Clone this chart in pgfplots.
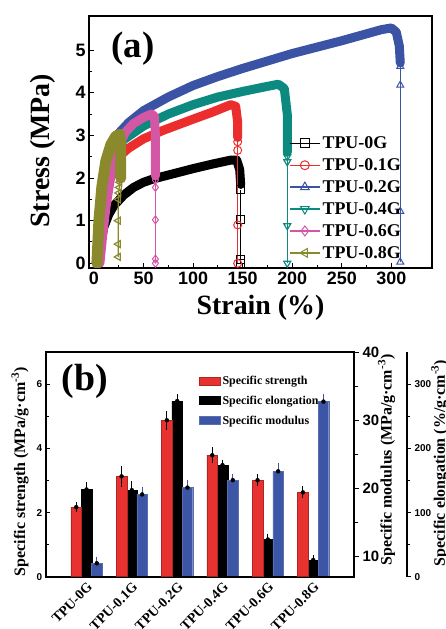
\documentclass[border=0pt]{standalone}
\usepackage{fontspec}
\setmainfont{Liberation Serif}
\setsansfont{Liberation Sans}
\usepackage{pgfplots}
\pgfplotsset{compat=1.18}
\definecolor{c0}{HTML}{000000}
\definecolor{c1}{HTML}{EC2D2D}
\definecolor{c2}{HTML}{3B53A4}
\definecolor{c3}{HTML}{0C8A7F}
\definecolor{c4}{HTML}{D457A5}
\definecolor{c5}{HTML}{8A8A2C}
\definecolor{bred}{HTML}{E8322F}
\definecolor{bblue}{HTML}{3C55A5}
\newcommand{\fs}[1]{\fontsize{#1}{#1}\selectfont}
\pgfplotsset{
  thickc/.style={line width=9bp, line join=round, line cap=round, forget plot},
  thinc/.style={line width=1.2bp, mark size=4bp, mark options={solid, fill=white, line width=1bp}, forget plot},
  ebar/.style={only marks, mark=none, forget plot, error bars/.cd, y dir=both, y explicit,
     error bar style={#1, line width=0.9bp},
     error mark options={#1, line width=0.9bp, mark size=4bp}, /pgfplots/.cd},
  barp/.style={ybar, bar width=10.5bp, bar shift=0bp, forget plot},
}
\begin{document}
\begin{tikzpicture}
\useasboundingbox (0bp,0bp) rectangle (446bp,629bp);
% ---------------- panel (a)
\begin{axis}[at={(89bp,361bp)}, anchor=south west, scale only axis,
  width=343bp, height=252bp,
  xmin=-5, xmax=341, ymin=-0.11, ymax=5.8,
  xtick={0,50,...,300}, ytick={0,1,...,5},
  minor x tick num=1, minor y tick num=1,
  tick align=inside, xtick pos=bottom, ytick pos=left,
  axis line style={line width=1.6bp},
  major tick length=5bp, minor tick length=3bp,
  every tick/.style={black, line width=1bp},
  /pgf/number format/assume math mode=true,
  tick label style={font=\sffamily\bfseries\fs{18}},
  xlabel={Strain (\%)}, ylabel={Stress (MPa)},
  label style={font=\bfseries\fs{28}},
  xlabel style={at={(rel axis cs:0.5,-0.159)}, anchor=center},
  ylabel style={at={(rel axis cs:-0.134,0.465)}, anchor=center},
  legend style={at={(0.583,0.53)}, anchor=north west, draw=none, fill=none,
    font=\bfseries\fs{18}, inner sep=0pt, row sep=4.5bp},
  legend cell align=left,
  legend image code/.code={\draw[mark repeat=2, mark phase=2, #1] plot coordinates {(0bp,0bp) (15bp,0bp) (30bp,0bp)};},
]
% TPU-0G
\addplot[c0, thickc] coordinates {(4,0) (7,0.5) (10,0.85) (15,1.15) (20,1.35) (30,1.6) (40,1.78) (50,1.9) (60,1.98) (80,2.1) (100,2.22) (120,2.33) (138,2.42) (144,2.42) (147,2.2) (148,1.85)};
\addplot[c0, thinc, mark=square] coordinates {(148,1.72) (148,1.03) (148,0.08) (148,0.0)};
% TPU-0.1G
\addplot[c1, thickc] coordinates {(4,0) (7,0.8) (10,1.4) (14,1.95) (18,2.25) (25,2.5) (35,2.7) (50,2.92) (70,3.12) (100,3.38) (120,3.55) (138,3.72) (143,3.68) (145,3.3) (145,2.95)};
\addplot[c1, thinc, mark=o] coordinates {(145,2.85) (145,2.65) (145,0.9) (145,0)};
% TPU-0.2G
\addplot[c2, thickc] coordinates {(5,0) (8,1.0) (11,1.8) (15,2.4) (20,2.8) (25,3.05) (35,3.3) (50,3.58) (75,3.9) (100,4.17) (125,4.38) (150,4.57) (200,4.92) (250,5.22) (290,5.48) (300,5.52) (305,5.42) (308,5.1) (309,4.7)};
\addplot[c2, thinc, mark=triangle] coordinates {(309,4.62) (309,4.18) (309,1.22) (309,0.03)};
% TPU-0.4G
\addplot[c3, thickc] coordinates {(4,0) (7,0.9) (10,1.6) (14,2.2) (20,2.6) (30,2.9) (50,3.22) (75,3.5) (100,3.72) (125,3.9) (150,4.03) (175,4.15) (186,4.2) (192,4.1) (195,3.5) (195,2.6)};
\addplot[c3, thinc, mark=triangle, mark options={rotate=180}] coordinates {(195,2.5) (195,2.38) (195,0.88) (195,0)};
% TPU-0.6G
\addplot[c4, thickc] coordinates {(6,0) (9,0.7) (12,1.3) (16,1.9) (20,2.35) (25,2.75) (32,3.08) (40,3.28) (50,3.42) (58,3.5) (61,3.45) (62,3.0) (62,2.05)};
\addplot[c4, thinc, mark=diamond] coordinates {(62,1.95) (62,1.78) (62,1.02) (62,0.1) (62,0.0)};
% TPU-0.8G
\addplot[c5, thickc, line width=11bp] coordinates {(3,0) (5,1.0) (8,1.8) (12,2.4) (17,2.78) (22,2.98) (26,3.02) (27,2.7) (27,2.0)};
\addplot[c5, thinc, mark=triangle, mark options={rotate=90}] coordinates {(26,1.9) (25.5,1.78) (25,1.65) (24.5,1.5) (24.5,1.0) (24.5,0.45) (24.5,0.15)};
% legend
\addlegendimage{c0, line width=1.4bp, mark=square, mark size=4.5bp, mark options={fill=white, line width=1bp}}
\addlegendentry{TPU-0G}
\addlegendimage{c1, line width=1.4bp, mark=o, mark size=4.5bp, mark options={fill=white, line width=1bp}}
\addlegendentry{TPU-0.1G}
\addlegendimage{c2, line width=1.4bp, mark=triangle, mark size=5bp, mark options={fill=white, line width=1bp}}
\addlegendentry{TPU-0.2G}
\addlegendimage{c3, line width=1.4bp, mark=triangle, mark size=5bp, mark options={fill=white, line width=1bp, rotate=180}}
\addlegendentry{TPU-0.4G}
\addlegendimage{c4, line width=1.4bp, mark=diamond, mark size=5bp, mark options={fill=white, line width=1bp}}
\addlegendentry{TPU-0.6G}
\addlegendimage{c5, line width=1.4bp, mark=triangle, mark size=5bp, mark options={fill=white, line width=1bp, rotate=90}}
\addlegendentry{TPU-0.8G}
\end{axis}
\node[font=\bfseries\fs{37}] at (133bp,580bp) {(a)};
% ---------------- panel (b): elongation axis line (offset)
\begin{axis}[at={(45.7bp,52.3bp)}, anchor=south west, scale only axis,
  width=361.3bp, height=224.4bp,
  xmin=0, xmax=1, ymin=0, ymax=350,
  hide x axis, axis y line*=right,
  ytick={0,100,200,300}, minor y tick num=1, tick align=outside,
  axis line style={line width=2bp},
  major tick length=4bp, minor tick length=3bp,
  every tick/.style={black, line width=1.2bp},
  /pgf/number format/assume math mode=true,
  tick label style={font=\sffamily\bfseries\fs{10}},
  ylabel={Specific elongation (\%/g·cm\textsuperscript{-3})},
  ylabel style={font=\bfseries\fs{16}, at={(rel axis cs:1.091,0.507)}, anchor=center},
]
\addplot[draw=none] coordinates {(0,0)};
\end{axis}
% elongation bars (hidden axis, same box as main)
\begin{axis}[at={(45.7bp,52.3bp)}, anchor=south west, scale only axis,
  width=308.3bp, height=224.4bp,
  xmin=-0.9, xmax=5.9, ymin=0, ymax=350, hide axis]
\addplot[barp, fill=black, draw=black]
  coordinates {(0,136) (1,135) (2,274) (3,174) (4,58) (5,26)};
\addplot[ebar=black]
  coordinates {(0,136) +- (0,5) (1,135) +- (0,7.5) (2,274) +- (0,4) (3,174) +- (0,2.5) (4,58) +- (0,3) (5,26) +- (0,1.5)};
\end{axis}
% modulus axis
\begin{axis}[at={(45.7bp,52.3bp)}, anchor=south west, scale only axis,
  width=308.3bp, height=224.4bp,
  xmin=-0.9, xmax=5.9, ymin=7, ymax=40,
  hide x axis, axis y line*=right,
  ytick={10,20,30,40}, minor ytick={15,25,35}, tick align=outside,
  axis line style={line width=2bp},
  major tick length=5bp, minor tick length=3.5bp,
  every tick/.style={black, line width=1.2bp},
  /pgf/number format/assume math mode=true,
  tick label style={font=\sffamily\bfseries\fs{15}},
  ylabel={Specific modulus (MPa/g·cm\textsuperscript{-3})},
  ylabel style={font=\bfseries\fs{16}, at={(rel axis cs:1.106,0.52)}, anchor=center},
]
\addplot[barp, fill=bblue, draw=bblue!85!white]
  coordinates {(0.227,8.97) (1.227,19.1) (2.227,20.1) (3.227,21.2) (4.227,22.5) (5.227,32.75)};
\addplot[ebar=bblue]
  coordinates {(0.227,8.97) +- (0,0.4) (1.227,19.1) +- (0,0.5) (2.227,20.1) +- (0,0.5) (3.227,21.2) +- (0,0.3) (4.227,22.5) +- (0,0.6) (5.227,32.75) +- (0,0.6)};
\end{axis}
% main strength axis
\begin{axis}[at={(45.7bp,52.3bp)}, anchor=south west, scale only axis,
  width=308.3bp, height=224.4bp,
  xmin=-0.9, xmax=5.9, ymin=0, ymax=7,
  xtick={0,...,5},
  xticklabels={TPU-0G,TPU-0.1G,TPU-0.2G,TPU-0.4G,TPU-0.6G,TPU-0.8G},
  ytick={0,2,4,6}, minor y tick num=1,
  tick align=inside, xtick pos=bottom, ytick pos=left,
  axis line style={line width=2bp},
  major tick length=4bp, minor tick length=3bp,
  every tick/.style={black, line width=1.2bp},
  /pgf/number format/assume math mode=true,
  yticklabel style={font=\sffamily\bfseries\fs{10}},
  xticklabel style={font=\bfseries\fs{14}, rotate=45, anchor=north east},
  ylabel={Specific strength (MPa/g·cm\textsuperscript{-3})},
  ylabel style={font=\bfseries\fs{16}, at={(rel axis cs:-0.083,0.468)}, anchor=center},
  legend style={at={(0.497,0.905)}, anchor=north west, draw=none, fill=none,
    font=\bfseries\fs{12}, inner sep=0pt, row sep=6bp},
  legend cell align=left,
  legend image code/.code={\draw[#1] (0bp,-4bp) rectangle (21bp,4bp);},
]
\addplot[barp, fill=bred, draw=bred!75!black]
  coordinates {(-0.227,2.17) (0.773,3.13) (1.773,4.88) (2.773,3.79) (3.773,3.01) (4.773,2.63)};
\addplot[ebar=black]
  coordinates {(-0.227,2.17) +- (0,0.02) (0.773,3.13) +- (0,0.2) (1.773,4.88) +- (0,0.17) (2.773,3.79) +- (0,0.13) (3.773,3.01) +- (0,0.06) (4.773,2.63) +- (0,0.06)};
\addlegendimage{fill=bred, draw=bred!75!black}
\addlegendentry{Specific strength}
\addlegendimage{fill=black, draw=black}
\addlegendentry{Specific elongation}
\addlegendimage{fill=bblue, draw=bblue!85!white}
\addlegendentry{Specific modulus}
\end{axis}
\node[font=\bfseries\fs{38}] at (85bp,247.3bp) {(b)};
\end{tikzpicture}
\end{document}
